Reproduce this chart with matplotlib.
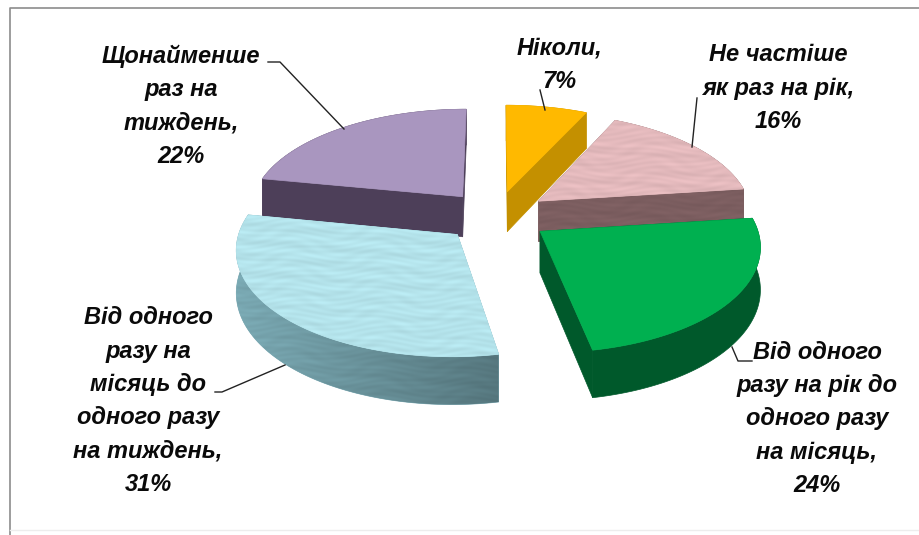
import numpy as np
import matplotlib
matplotlib.use("Agg")
import matplotlib.pyplot as plt
from matplotlib.patches import Polygon

# values go clockwise from 12 o'clock
labels = [
    "Ніколи,\n7%",
    "Не частіше\nяк раз на рік,\n16%",
    "Від одного\nразу на рік до\nодного разу\nна місяць,\n24%",
    "Від одного\nразу на\nмісяць до\nодного разу\nна тиждень,\n31%",
    "Щонайменше\nраз на\nтиждень,\n22%",
]
values = [7, 16, 24, 31, 22]
top_colors = ["#FFB900", "#E3B9BC", "#00B050", "#B4E3EB", "#A996BF"]
side_colors = ["#C49000", "#7C5E60", "#00592B", "#7AA9B3", "#4D3F59"]
textured = [False, True, False, True, False]
draw_order = [1, 0, 4, 3, 2]

label_pos = [(559, 65), (778, 88), (817, 419), (148, 401), (181, 106)]
leaders = [
    [(540, 90), (545, 110)],
    [(697, 98), (692, 147)],
    [(752, 361), (738, 361), (732, 347)],
    [(215, 392), (222, 392), (285, 365)],
    [(268, 62), (280, 62), (344, 129)],
]

# projection of the tilted pie
CX, CY = 496, 216
A, B = 214, 102.5
K = 0.1215
DEPTH = 41
EXPLODE = 0.25


def project(x, y, drop=0.0):
    s = 1 / (1 + K * y)
    return np.column_stack([CX + A * x * s, CY - B * y * s + drop * DEPTH * s])


def texture(ax, poly, color, zorder, shade=None):
    # mottled look of the original fill, sines only
    x0, y0 = poly.min(axis=0)
    x1, y1 = poly.max(axis=0)
    w, h = int(x1 - x0) + 2, int(y1 - y0) + 2
    xx, yy = np.meshgrid(np.arange(w) + x0, np.arange(h) + y0)
    n = (np.sin(xx * 0.11 + np.sin(yy * 0.23) * 2) * np.sin(yy * 0.83 + np.sin(xx * 0.07) * 2)
         + 0.5 * np.sin(xx * 0.037 - yy * 0.41))
    rgb = np.array(matplotlib.colors.to_rgb(color))
    img = rgb[None, None, :] * (1 + 0.03 * n[:, :, None])
    if shade is not None:
        img = img * (1 - shade * (xx[:, :, None] - x0) / w)
    im = ax.imshow(np.clip(img, 0, 1), extent=(x0, x0 + w, y0 + h, y0),
                   aspect="auto", zorder=zorder, interpolation="bilinear")
    patch = Polygon(poly, closed=True, transform=ax.transData, fc="none", ec="none")
    ax.add_patch(patch)
    im.set_clip_path(patch)


def draw_wedge(ax, start, end, top, side, tex, zorder):
    mid = (start + end) / 2
    ex, ey = EXPLODE * np.sin(mid), EXPLODE * np.cos(mid)
    th = np.linspace(start, end, 80)
    ax_x, ax_y = ex + np.sin(th), ey + np.cos(th)

    rim_top = project(ax_x, ax_y)
    rim_bot = project(ax_x, ax_y, 1.0)
    apex_top = project(np.array([ex]), np.array([ey]))
    apex_bot = project(np.array([ex]), np.array([ey]), 1.0)

    faces = [
        (ey + np.cos(start) / 2, np.vstack([apex_top, rim_top[:1], rim_bot[:1], apex_bot]), False),
        (ey + np.cos(end) / 2, np.vstack([apex_top, rim_top[-1:], rim_bot[-1:], apex_bot]), False),
        (ey + np.cos(mid) * 0.8, np.vstack([rim_top, rim_bot[::-1]]), True),
    ]
    # far faces first so the near ones cover them
    faces.sort(key=lambda f: -f[0])
    for i, (_, poly, curved) in enumerate(faces):
        ax.add_patch(Polygon(poly, closed=True, fc=side, ec=side, lw=0.5, zorder=zorder + i * 0.1))
        if tex:
            texture(ax, poly, side, zorder + i * 0.1 + 0.05, shade=0.3 if curved else None)

    top_poly = np.vstack([apex_top, rim_top])
    ax.add_patch(Polygon(top_poly, closed=True, fc=top, ec=top, lw=0.5, zorder=zorder + 0.5))
    if tex:
        texture(ax, top_poly, top, zorder + 0.55)


fig = plt.figure(figsize=(9.19, 5.35), dpi=100)
ax = fig.add_axes([0, 0, 1, 1])

# frame: only left and top read clearly, bottom is very faint
ax.plot([9.5, 9.5, 919], [535, 7.5, 7.5], color="#8C8C8C", lw=1.2, zorder=1)
ax.plot([9.5, 919], [529.5, 529.5], color="#EDEDED", lw=1.0, zorder=1)

edges = np.cumsum([0] + values) / sum(values) * 2 * np.pi
for z, i in enumerate(draw_order):
    draw_wedge(ax, edges[i], edges[i + 1], top_colors[i], side_colors[i], textured[i], 2 + z)

for pts in leaders:
    xs, ys = zip(*pts)
    ax.plot(xs, ys, color="#222222", lw=1.0, zorder=20)

for text, (x, y) in zip(labels, label_pos):
    ax.text(x, y, text, ha="center", va="center", fontsize=17, fontweight="bold",
            fontstyle="italic", family=["Liberation Sans", "DejaVu Sans"], color="#0A0A0A",
            linespacing=1.57, zorder=21)

ax.set_xlim(0, 919)
ax.set_ylim(535, 0)
ax.axis("off")
fig.savefig("out.png", dpi=100)
